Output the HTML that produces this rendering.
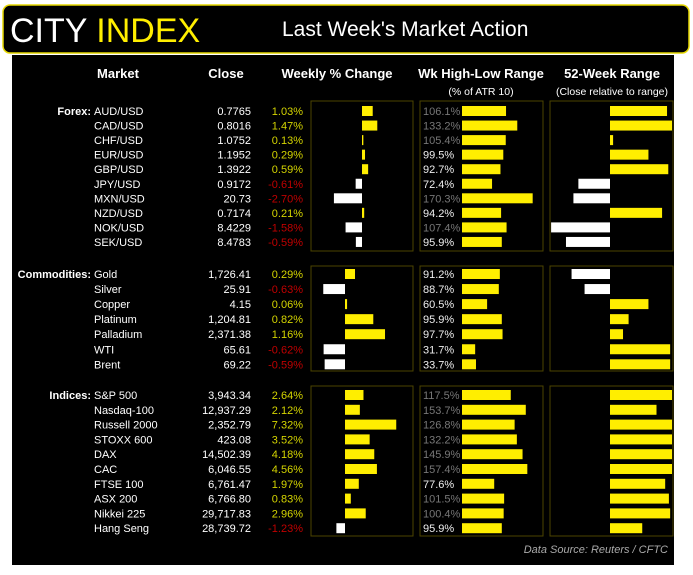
<!DOCTYPE html>
<html><head><meta charset="utf-8"><style>
body{margin:0;background:#fff;width:693px;height:575px;overflow:hidden;font-family:"Liberation Sans",sans-serif}
svg{display:block}
</style></head><body>
<svg id="c" width="693" height="575" xmlns="http://www.w3.org/2000/svg">
<rect x="3" y="5" width="686" height="48" rx="7" fill="#000" stroke="#e6d800" stroke-width="1.5"/>
<text x="10" y="42" font-size="34" fill="#fff">CITY <tspan fill="#ffee00">INDEX</tspan></text>
<text x="282" y="36" font-size="21" fill="#fff">Last Week's Market Action</text>
<rect x="12" y="55" width="662" height="510" fill="#000"/>
<g font-weight="bold" font-size="13" fill="#fff">
<text x="118" y="78" text-anchor="middle">Market</text>
<text x="226" y="78" text-anchor="middle">Close</text>
<text x="337" y="78" text-anchor="middle">Weekly % Change</text>
<text x="481" y="78" text-anchor="middle">Wk High-Low Range</text>
<text x="612" y="78" text-anchor="middle">52-Week Range</text>
</g>
<text x="481" y="95" font-size="10.5" fill="#fff" text-anchor="middle">(% of ATR 10)</text>
<text x="612" y="95" font-size="10.5" fill="#fff" text-anchor="middle">(Close relative to range)</text>
<text x="668" y="553" font-size="11" font-style="italic" fill="#aaa" text-anchor="end">Data Source: Reuters / CFTC</text>
</svg>
<script>
const sections=["Forex:","Commodities:","Indices:"];
const names=[["AUD/USD","CAD/USD","CHF/USD","EUR/USD","GBP/USD","JPY/USD","MXN/USD","NZD/USD","NOK/USD","SEK/USD"],["Gold","Silver","Copper","Platinum","Palladium","WTI","Brent"],["S&P 500","Nasdaq-100","Russell 2000","STOXX 600","DAX","CAC","FTSE 100","ASX 200","Nikkei 225","Hang Seng"]];
const closes=[["0.7765","0.8016","1.0752","1.1952","1.3922","0.9172","20.73","0.7174","8.4229","8.4783"],["1,726.41","25.91","4.15","1,204.81","2,371.38","65.61","69.22"],["3,943.34","12,937.29","2,352.79","423.08","14,502.39","6,046.55","6,761.47","6,766.80","29,717.83","28,739.72"]];
const changes=[[1.03,1.47,0.13,0.29,0.59,-0.61,-2.70,0.21,-1.58,-0.59],[0.29,-0.63,0.06,0.82,1.16,-0.62,-0.59],[2.64,2.12,7.32,3.52,4.18,4.56,1.97,0.83,2.96,-1.23]];
const ranges=[[106.1,133.2,105.4,99.5,92.7,72.4,170.3,94.2,107.4,95.9],[91.2,88.7,60.5,95.9,97.7,31.7,33.7],[117.5,153.7,126.8,132.2,145.9,157.4,77.6,101.5,100.4,95.9]];
const week52=[[0.92,1.0,0.05,0.62,0.94,-0.51,-0.59,0.84,-0.95,-0.71],[-0.62,-0.41,0.62,0.30,0.21,0.97,0.97],[1.0,0.75,1.0,1.0,1.0,1.0,0.89,0.95,0.97,0.52]];
const S="http://www.w3.org/2000/svg",svg=document.getElementById('c');
function mk(t,a,txt){const e=document.createElementNS(S,t);for(const k in a)e.setAttribute(k,a[k]);if(txt!==undefined)e.textContent=txt;svg.appendChild(e);return e;}
const panelTop=[101,266,386],panelBot=[251,371,536],rowY0=[111,274,395],rowStep=[14.55,15.05,14.8];
const chgZero=[362,345,345],chgScale=[10.4,34.5,7.0];
const xRange=v=>462+v*0.415, x52=v=>610+v*62;
for(let s=0;s<3;s++){
 let p=mk('rect',{x:311,y:panelTop[s],width:102,height:panelBot[s]-panelTop[s],fill:'none',stroke:'#4d4500'});
 
 p=mk('rect',{x:420,y:panelTop[s],width:123,height:panelBot[s]-panelTop[s],fill:'none',stroke:'#4d4500'});
 
 p=mk('rect',{x:550,y:panelTop[s],width:123,height:panelBot[s]-panelTop[s],fill:'none',stroke:'#4d4500'});
 
 let sl=mk('text',{x:91,y:rowY0[s]+4,'font-size':11,'font-weight':'bold',fill:'#fff','text-anchor':'end'},sections[s]);
 
 names[s].forEach((n,i)=>{
  const y=rowY0[s]+i*rowStep[s];
  let t=mk('text',{x:94,y:y+4,'font-size':11,fill:'#fff'},n);
  
  t=mk('text',{x:251,y:y+4,'font-size':11,fill:'#fff','text-anchor':'end'},closes[s][i]);
  
  const c=changes[s][i];
  t=mk('text',{x:303,y:y+4,'font-size':11,fill:c>=0?'#d4d400':'#c00000','text-anchor':'end'},c.toFixed(2)+'%');
  
  const w=Math.abs(c)*chgScale[s];
  let b=mk('rect',{x:c>=0?chgZero[s]:chgZero[s]-w,y:y-5,width:Math.max(w,1),height:10,fill:c>=0?'#ffee00':'#fff'});
  
  const r=ranges[s][i];
  t=mk('text',{x:423,y:y+4,'font-size':11,fill:r>100?'#777':'#eee'},r.toFixed(1)+'%');
  
  b=mk('rect',{x:462,y:y-5,width:xRange(r)-462,height:10,fill:'#ffee00'});
  
  const v=week52[s][i],x=x52(v);
  b=mk('rect',{x:Math.min(x,610),y:y-5,width:Math.max(Math.abs(x-610),1),height:10,fill:v>=0?'#ffee00':'#fff'});
  
 });
}
</script>
</body></html>
